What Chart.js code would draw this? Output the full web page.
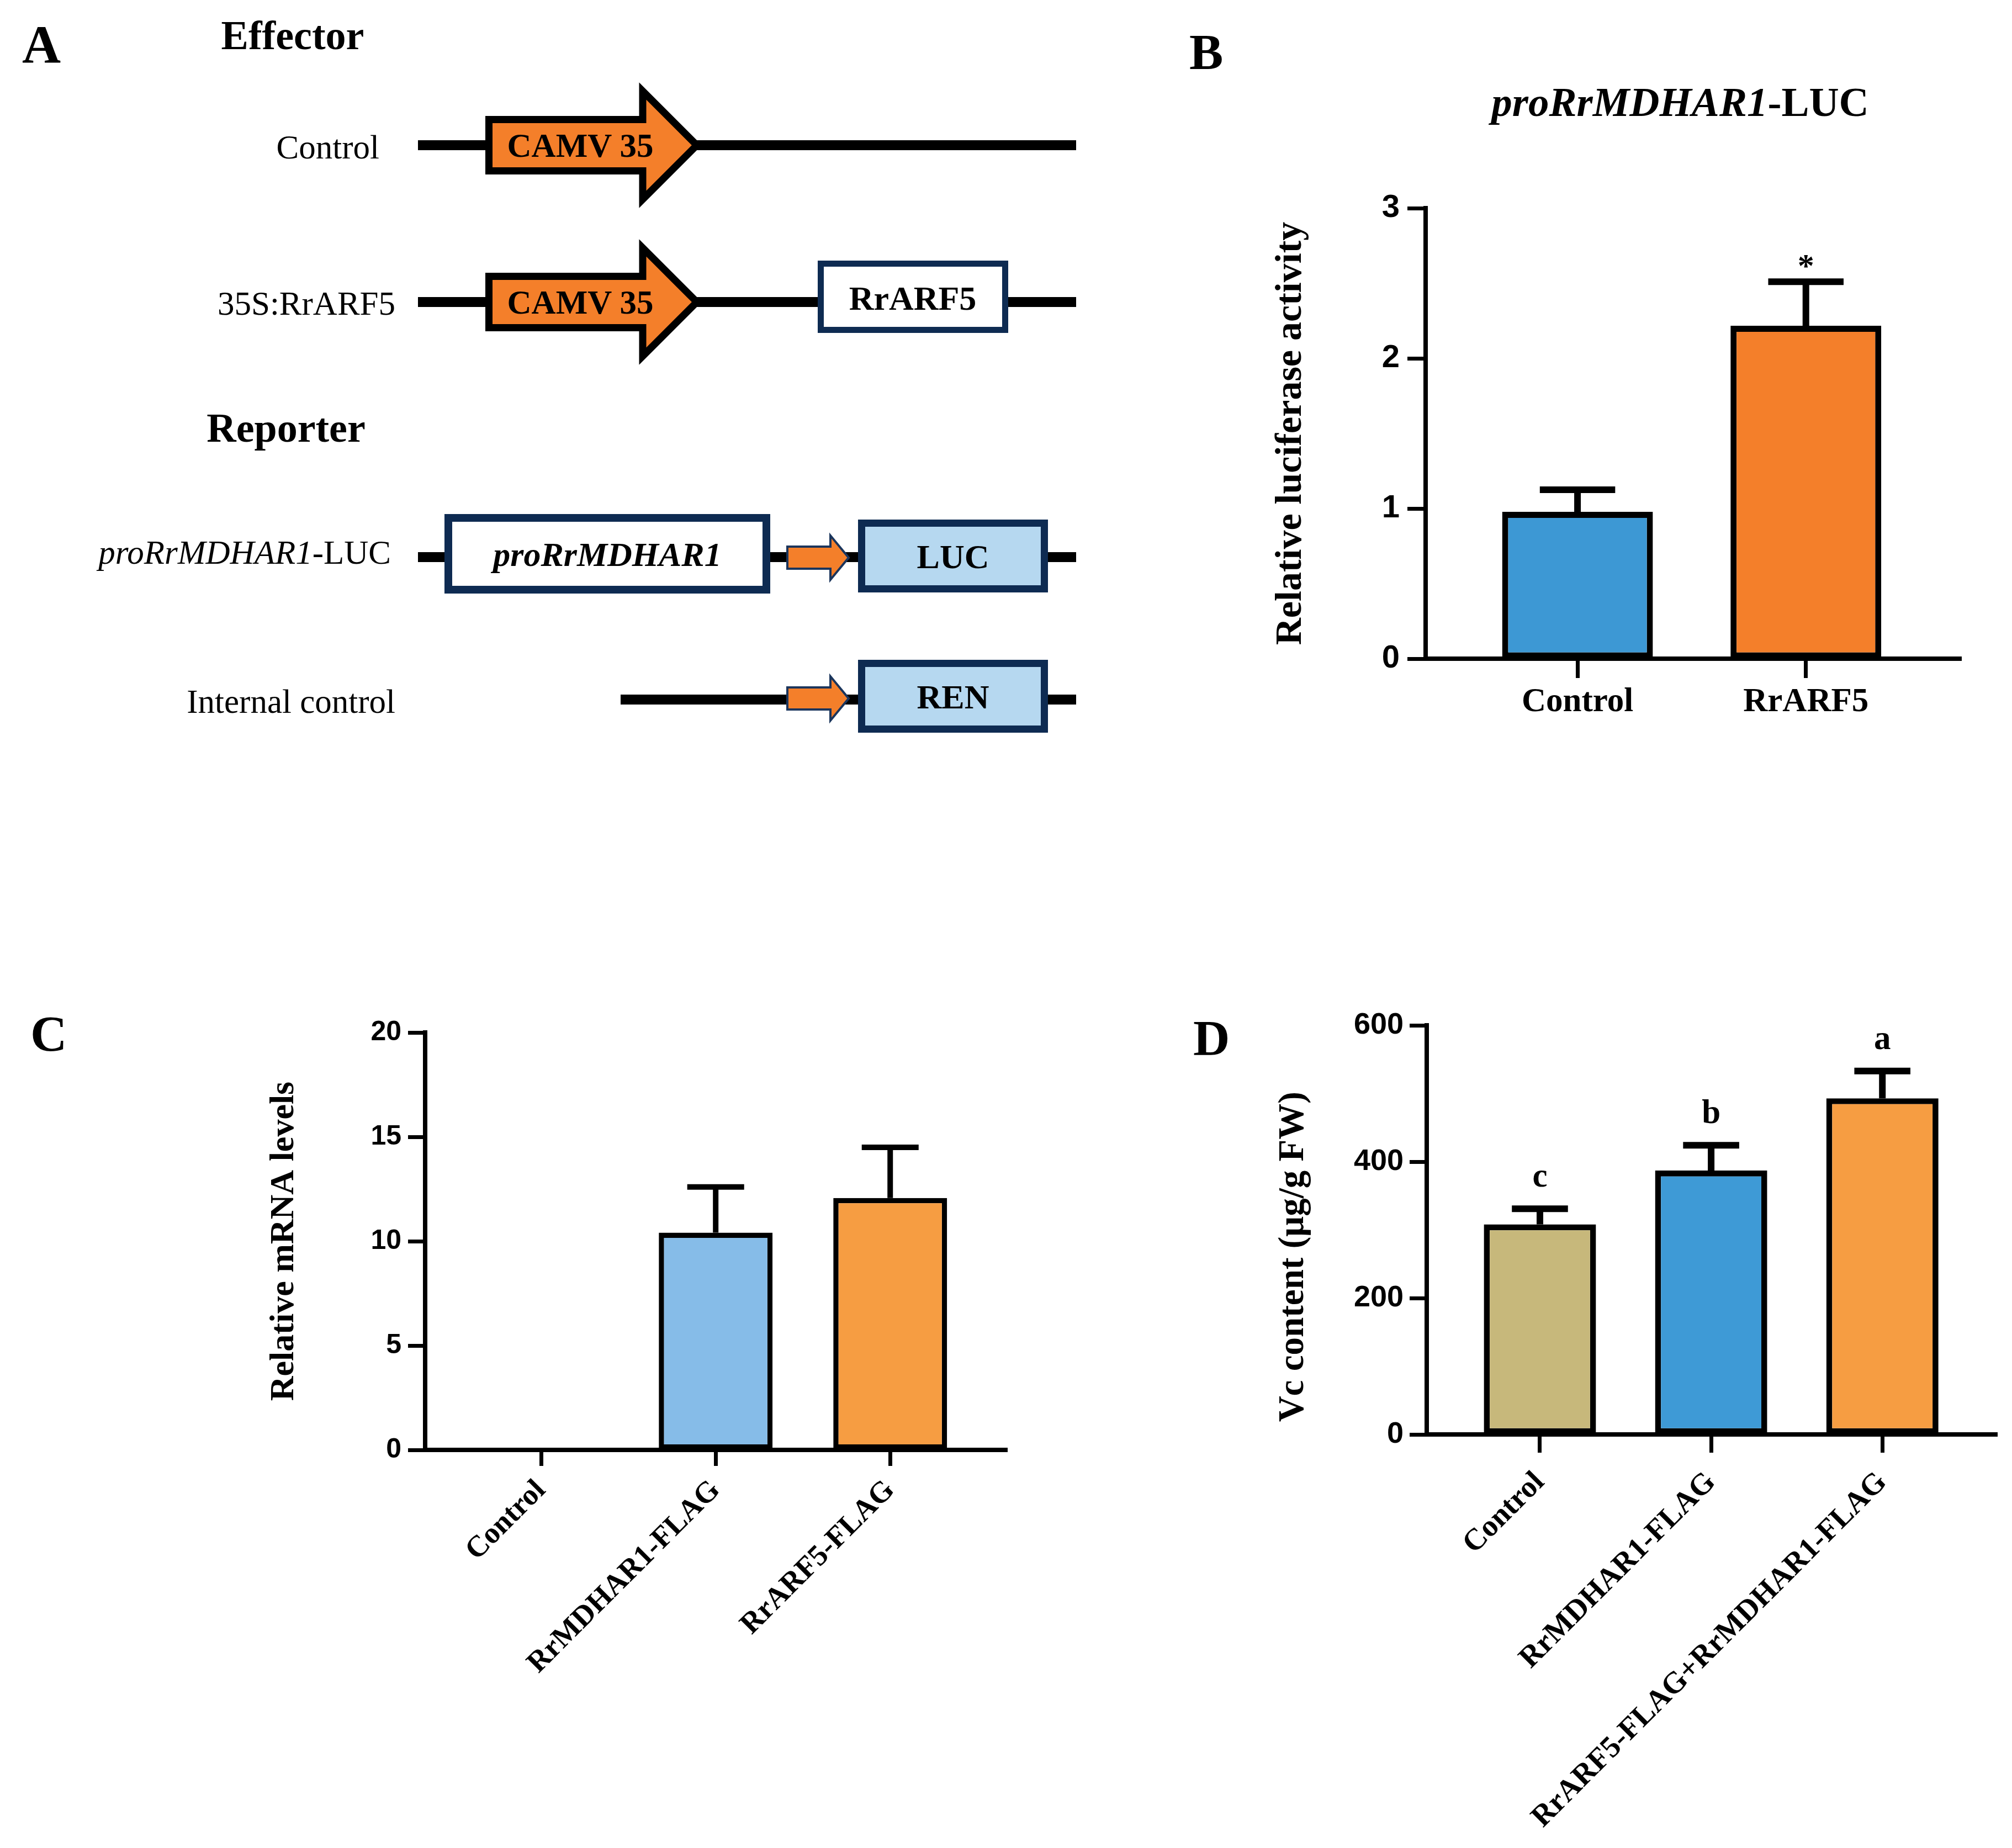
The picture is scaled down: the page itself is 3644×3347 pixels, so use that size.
<!DOCTYPE html>
<html>
<head>
<meta charset="utf-8">
<script src="https://cdn.jsdelivr.net/npm/chart.js@4.4.0/dist/chart.umd.min.js"></script>
<style>
html,body{margin:0;padding:0;background:#fff;}
#page{position:relative;width:3644px;height:3347px;overflow:hidden;background:#fff;}
#diagram{position:absolute;left:0;top:0;}
.chartbox{position:absolute;}
.chartbox canvas{display:block;}
</style>
</head>
<body>
<div id="page">
<svg id="diagram" width="3644" height="3347" xmlns="http://www.w3.org/2000/svg">
  <g font-family="'Liberation Serif','Times New Roman',serif" fill="#000">
    <text x="40" y="113" font-size="97" font-weight="bold">A</text>
    <text x="2154" y="125" font-size="92" font-weight="bold">B</text>
    <text x="55" y="1903" font-size="92" font-weight="bold">C</text>
    <text x="2161" y="1911" font-size="92" font-weight="bold">D</text>
    <text x="530" y="89" font-size="74" font-weight="bold" text-anchor="middle">Effector</text>
    <text x="518" y="800" font-size="74" font-weight="bold" text-anchor="middle">Reporter</text>
    <text x="687" y="287" font-size="61" text-anchor="end">Control</text>
    <text x="716" y="570" font-size="61" text-anchor="end">35S:RrARF5</text>
    <text x="708" y="1021" font-size="61" text-anchor="end"><tspan font-style="italic">proRrMDHAR1</tspan>-LUC</text>
    <text x="716" y="1291" font-size="61" text-anchor="end">Internal control</text>
    <text x="3043" y="210" font-size="75" font-weight="bold" text-anchor="middle"><tspan font-style="italic">proRrMDHAR1</tspan>-LUC</text>
  </g>
  <g stroke="#000" stroke-width="18">
    <line x1="757" y1="263" x2="1949" y2="263"/>
    <line x1="757" y1="547" x2="1949" y2="547"/>
    <line x1="757" y1="1009" x2="1949" y2="1009"/>
    <line x1="1124" y1="1267" x2="1949" y2="1267"/>
  </g>
  <g fill="#f47f2a" stroke="#000" stroke-width="13" stroke-linejoin="miter" stroke-miterlimit="10">
    <polygon points="885.5,216.5 1164,216.5 1164,165 1262,263 1164,361 1164,309.5 885.5,309.5"/>
    <polygon points="885.5,500.5 1164,500.5 1164,449 1262,547 1164,645 1164,593.5 885.5,593.5"/>
  </g>
  <g font-family="'Liberation Serif','Times New Roman',serif" font-weight="bold" font-size="61" fill="#000" text-anchor="middle">
    <text x="1051" y="284">CAMV 35</text>
    <text x="1051" y="568">CAMV 35</text>
  </g>
  <g stroke="#0e2b52">
    <rect x="1486.5" y="477.5" width="334" height="120" fill="#fff" stroke-width="11"/>
    <rect x="812" y="938" width="576" height="130" fill="#fff" stroke-width="14"/>
    <rect x="1560.5" y="947.5" width="331" height="119" fill="#b6d8f0" stroke-width="13"/>
    <rect x="1560.5" y="1201.5" width="331" height="119" fill="#b6d8f0" stroke-width="13"/>
  </g>
  <g fill="#f47f2a" stroke="#1b355c" stroke-width="4">
    <polygon points="1426,990 1504,990 1504,970 1537,1010 1504,1050 1504,1030 1426,1030"/>
    <polygon points="1426,1245 1504,1245 1504,1225 1537,1265 1504,1305 1504,1285 1426,1285"/>
  </g>
  <g font-family="'Liberation Serif','Times New Roman',serif" font-weight="bold" font-size="62" fill="#000" text-anchor="middle">
    <text x="1653" y="561">RrARF5</text>
    <text x="1100" y="1025" font-style="italic">proRrMDHAR1</text>
    <text x="1726" y="1029">LUC</text>
    <text x="1726" y="1283">REN</text>
  </g>
</svg>

<div class="chartbox" style="left:2250px;top:320px;"><canvas id="chartB" width="1394" height="1020"></canvas></div>
<div class="chartbox" style="left:380px;top:1800px;"><canvas id="chartC" width="1520" height="1300"></canvas></div>
<div class="chartbox" style="left:2200px;top:1780px;"><canvas id="chartD" width="1444" height="1567"></canvas></div>
</div>

<script>
// ---------- Data ----------
// Panel B
const catsB   = ['Control', 'RrARF5'];
const valsB   = [0.978, 2.217];
const errB    = [0.147, 0.293];
const sigB    = ['', '*'];
const yTicksB = [0, 1, 2, 3];
const colorsB = ['#3d98d4', '#f47f2a'];

// Panel C
const catsC   = ['Control', 'RrMDHAR1-FLAG', 'RrARF5-FLAG'];
const valsC   = [0, 10.41, 12.07];
const errC    = [0, 2.19, 2.43];
const yTicksC = [0, 5, 10, 15, 20];
const colorsC = ['#86bce8', '#86bce8', '#f69d42'];

// Panel D
const catsD   = ['Control', 'RrMDHAR1-FLAG', 'RrARF5-FLAG+RrMDHAR1-FLAG'];
const valsD   = [308, 387, 493];
const errD    = [23, 37, 40];
const sigD    = ['c', 'b', 'a'];
const yTicksD = [0, 200, 400, 600];
const colorsD = ['#c7b87b', '#3e9ad6', '#f69d42'];

// ---------- Plugin: error bars + significance labels ----------
const errorBarPlugin = {
  id: 'errbars',
  afterDatasetsDraw(chart, args, opts) {
    const ctx = chart.ctx;
    const ys = chart.scales.y;
    const meta = chart.getDatasetMeta(0);
    const data = chart.data.datasets[0].data;
    ctx.save();
    meta.data.forEach((bar, i) => {
      const v = data[i].y;
      const e = opts.errors ? opts.errors[i] : 0;
      const yb = ys.getPixelForValue(v);
      const yt = ys.getPixelForValue(v + (e || 0));
      if (e) {
        const half = bar.width * opts.capRatio / 2;
        ctx.strokeStyle = '#000';
        ctx.lineWidth = opts.lineWidth;
        ctx.lineCap = 'butt';
        ctx.beginPath();
        ctx.moveTo(bar.x, yb);
        ctx.lineTo(bar.x, yt);
        ctx.moveTo(bar.x - half, yt);
        ctx.lineTo(bar.x + half, yt);
        ctx.stroke();
      }
      const s = opts.labels ? opts.labels[i] : '';
      if (s) {
        ctx.fillStyle = '#000';
        ctx.font = opts.labelFont;
        ctx.textAlign = 'center';
        ctx.textBaseline = 'alphabetic';
        ctx.fillText(s, bar.x, yt - opts.labelGap);
      }
    });
    ctx.restore();
  }
};

const SERIF = "'Liberation Serif', 'Times New Roman', serif";
const SANS = "'Liberation Sans', Arial, sans-serif";

function buildChart(id, p) {
  return new Chart(document.getElementById(id), {
    type: 'bar',
    data: {
      datasets: [{
        data: p.values.map((v, i) => ({ x: i, y: v })),
        backgroundColor: p.colors,
        borderColor: '#000',
        borderWidth: p.borderW,
        borderSkipped: false,
        barPercentage: p.barPct,
        categoryPercentage: 1
      }]
    },
    options: {
      responsive: false,
      animation: false,
      devicePixelRatio: 1,
      layout: { padding: p.pad },
      plugins: {
        legend: { display: false },
        tooltip: { enabled: false },
        errbars: {
          errors: p.errors, labels: p.labels, capRatio: 0.5,
          lineWidth: p.errW, labelFont: p.labelFont, labelGap: p.labelGap
        }
      },
      scales: {
        x: {
          type: 'linear',
          offset: false,
          bounds: 'data',
          min: p.xMin, max: p.xMax,
          afterBuildTicks: (s) => { s.ticks = p.cats.map((c, i) => ({ value: i })); },
          afterFit: (s) => { s.height = p.xH; },
          ticks: {
            autoSkip: false,
            minRotation: p.rot, maxRotation: p.rot,
            padding: p.xPad,
            color: '#000',
            font: { family: SERIF, size: p.xFont, weight: 'bold', lineHeight: 1.2 },
            callback: (v, i) => p.cats[i]
          },
          grid: { display: true, offset: false, drawOnChartArea: false, drawTicks: true, tickLength: p.xTL, tickWidth: 7, tickColor: '#000', color: '#000' },
          border: { display: true, color: '#000', width: p.axisW }
        },
        y: {
          min: p.yTicks[0], max: p.yTicks[p.yTicks.length - 1],
          afterBuildTicks: (s) => { s.ticks = p.yTicks.map(v => ({ value: v })); },
          afterFit: (s) => { s.width = p.yW; },
          ticks: {
            padding: p.yPad,
            color: '#000',
            font: { family: SANS, size: p.yFont, weight: 'bold', lineHeight: 1.2 },
            callback: (v) => String(v)
          },
          grid: { display: true, drawOnChartArea: false, drawTicks: true, tickLength: p.yTL, tickWidth: 7, tickColor: '#000', color: '#000' },
          border: { display: true, color: '#000', width: p.axisW },
          title: {
            display: true, text: p.yTitle, color: '#000',
            font: { family: SERIF, size: p.yTitleFont, weight: 'bold', lineHeight: 1 },
            padding: { top: p.yTitlePad, bottom: 0 }
          }
        }
      }
    },
    plugins: [errorBarPlugin]
  });
}

buildChart('chartB', {
  cats: catsB, values: valsB, errors: errB, labels: sigB, colors: colorsB, yTicks: yTicksB,
  yTitle: 'Relative luciferase activity', yTitleFont: 68, yTitlePad: 54,
  pad: { left: 0, top: 57, right: 92, bottom: 0 }, yW: 332, xH: 147,
  xMin: -0.665, xMax: 1.68, rot: 0, xFont: 61, xPad: 8, xTL: 35,
  yFont: 58, yPad: 14, yTL: 33, axisW: 8, borderW: 11, errW: 12, barPct: 0.66,
  labelFont: "bold 60px 'Liberation Serif', serif", labelGap: 9
});

buildChart('chartC', {
  cats: catsC, values: valsC, errors: errC, labels: null, colors: colorsC, yTicks: yTicksC,
  yTitle: 'Relative mRNA levels', yTitleFont: 62, yTitlePad: 104,
  pad: { left: 0, top: 70, right: 76, bottom: 0 }, yW: 390, xH: 474,
  xMin: -0.665, xMax: 2.67, rot: 45, xFont: 54, xPad: 13, xTL: 29,
  yFont: 50, yPad: 12, yTL: 31, axisW: 8, borderW: 9.5, errW: 10, barPct: 0.652,
  labelFont: "bold 60px 'Liberation Serif', serif", labelGap: 40
});

buildChart('chartD', {
  cats: catsD, values: valsD, errors: errD, labels: sigD, colors: colorsD, yTicks: yTicksD,
  yTitle: 'Vc content (μg/g FW)\u2002\u2002\u2002', yTitleFont: 65, yTitlePad: 111,
  pad: { left: 0, top: 77, right: 27, bottom: 0 }, yW: 384, xH: 749,
  xMin: -0.661, xMax: 2.67, rot: 45, xFont: 55, xPad: 22, xTL: 33,
  yFont: 54, yPad: 11, yTL: 31, axisW: 8, borderW: 10.7, errW: 12, barPct: 0.655,
  labelFont: "bold 61px 'Liberation Serif', serif", labelGap: 40
});
</script>
</body>
</html>
